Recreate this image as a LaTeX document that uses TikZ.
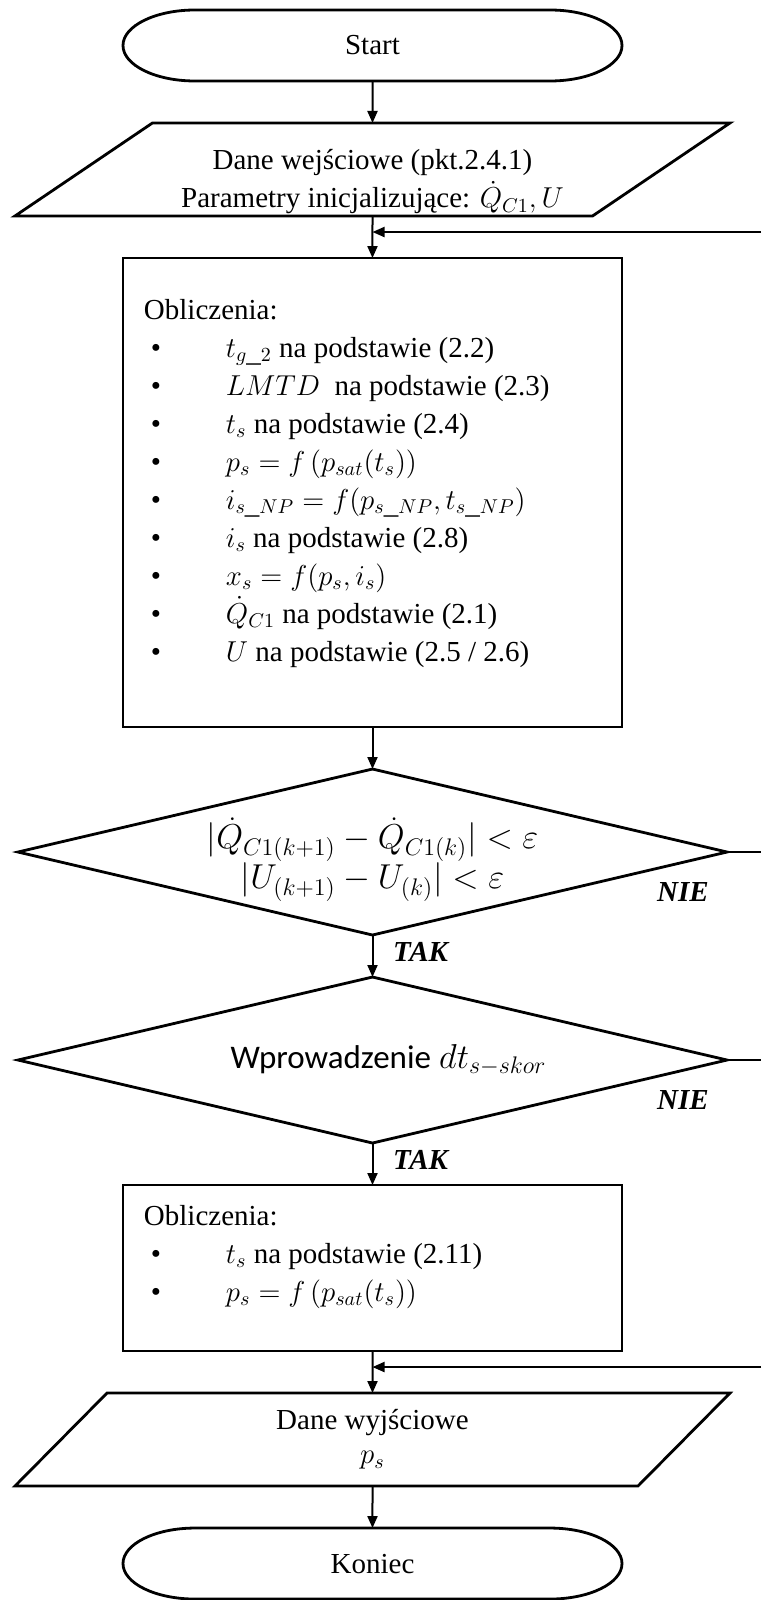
\documentclass[tikz,border=0pt]{standalone}
\usepackage{fontspec}
\setmainfont{Liberation Serif}
\newfontfamily\carlito{Carlito}
\usetikzlibrary{arrows.meta,positioning,shapes.geometric}
\newcommand{\pkt}[1]{\hspace*{3.5pt}\makebox[37.5pt][l]{\textbullet}#1}

\begin{document}
\begin{tikzpicture}[node distance=21pt,>={Triangle[length=6pt,width=5pt]},
  every node/.style={font=\fontsize{14.5pt}{19pt}\selectfont,outer sep=0pt},
  term/.style={minimum width=249.5pt,minimum height=35.5pt,inner sep=0pt},
  io/.style={draw,line width=1.4pt,trapezium,trapezium left angle=33,trapezium right angle=147,trapezium stretches body,minimum width=357.5pt,minimum height=46.5pt,inner sep=0pt,align=center},
  proc/.style={draw,line width=1.4pt,inner xsep=10.5pt,inner ysep=0pt},
  dec/.style={draw,line width=1.4pt,diamond,aspect=4.27,minimum width=354.5pt,minimum height=83pt,inner sep=-8pt,align=center},
  lbl/.style={font=\fontsize{14.5pt}{19pt}\selectfont\bfseries\itshape},
  conn/.style={line width=1pt}]
\useasboundingbox (-186.25pt,22.75pt) rectangle (194.25pt,-777.25pt);
\node[term] (start) {Start};
\node[io,below=of start] (in) {\rule{0pt}{22.5pt}Dane wejściowe (pkt.2.4.1)\\Parametry inicjalizujące: $\dot{Q}_{C1},U$};
\node[proc,below=of in] (b1) {\parbox[c][234.5pt][t]{228.5pt}{\rule{0pt}{30.5pt}Obliczenia:\\
  \pkt{$t_{g\_2}$ na podstawie (2.2)}\\
  \pkt{$LMTD$\ \ na podstawie (2.3)}\\
  \pkt{$t_s$ na podstawie (2.4)}\\
  \pkt{$p_s=f\left(p_{sat}(t_s)\right)$}\\
  \pkt{$i_{s\_NP}=f(p_{s\_NP},t_{s\_NP})$}\\
  \pkt{$i_s$ na podstawie (2.8)}\\
  \pkt{$x_s=f(p_s,i_s)$}\\
  \pkt{$\dot{Q}_{C1}$ na podstawie (2.1)}\\
  \pkt{$U$ na podstawie (2.5 / 2.6)}}};
\node[dec,below=of b1,font=\fontsize{16.5pt}{19pt}\selectfont] (d1) {\rule{0pt}{23pt}$\bigl|\dot{Q}_{C1(k+1)}-\dot{Q}_{C1(k)}\bigr|<\varepsilon$\\$\bigl|U_{(k+1)}-U_{(k)}\bigr|<\varepsilon$};
\node[dec,below=of d1,font=\fontsize{16.5pt}{20pt}\selectfont] (d2) {\hspace*{16pt}{\carlito Wprowadzenie} $dt_{s-skor}$};
\node[proc,below=of d2] (b2) {\parbox[c][83pt][t]{228.5pt}{\rule{0pt}{20pt}Obliczenia:\\
  \pkt{$t_s$ na podstawie (2.11)}\\
  \pkt{$p_s=f\left(p_{sat}(t_s)\right)$}}};
\node[io,below=of b2] (out) {Dane wyjściowe\\[-2pt]$p_s$};
\node[term,below=of out] (stop) {Koniec};
% pill outlines
\foreach \t in {start,stop}
  \draw[line width=1.4pt] ([xshift=36pt]\t.north west) -- ([xshift=-36pt]\t.north east)
    arc[start angle=90,end angle=-90,x radius=36pt,y radius=17.75pt] -- ([xshift=36pt]\t.south west)
    arc[start angle=270,end angle=90,x radius=36pt,y radius=17.75pt] -- cycle;
\coordinate[below=8pt of in] (j1);
\coordinate[below=8pt of b2] (j2);
\coordinate (rx) at (194.25pt,0);
\draw[->,conn] (start) -- (in);
\draw[->,conn] (in) -- (b1);
\draw[->,conn] (b1) -- (d1);
\draw[->,conn] (d1) -- node[lbl,right=7pt,pos=.4] (tak1) {TAK} (d2);
\draw[->,conn] (d2) -- node[lbl,right=7pt,pos=.4] (tak2) {TAK} (b2);
\draw[->,conn] (b2) -- (out);
\draw[->,conn] (out) -- (stop);
\draw[conn] (d1.east) -- (d1.east -| rx);
\draw[conn] (d2.east) -- (d2.east -| rx);
\draw[->,conn] (j1 -| rx) -- (j1);
\draw[->,conn] (j2 -| rx) -- (j2);
\node[lbl] (nie1) at ([shift={(-22pt,-20pt)}]d1.east) {NIE};
\node[lbl] (nie2) at ([shift={(-22pt,-20pt)}]d2.east) {NIE};
\end{tikzpicture}
\end{document}
